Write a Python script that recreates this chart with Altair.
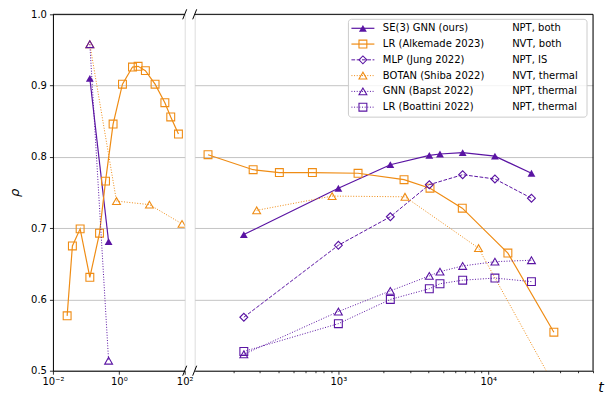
import altair as alt
import pandas as pd

# ---------------- data ----------------
names = ["SE(3) GNN (ours)", "LR (Alkemade 2023)", "MLP (Jung 2022)",
         "BOTAN (Shiba 2022)", "GNN (Bapst 2022)", "LR (Boattini 2022)"]
conditions = ["NPT, both", "NVT, both", "NPT, IS", "NVT, thermal", "NPT, thermal", "NPT, thermal"]

# left panel (short times)
se3_t_L = [0.132, 0.49]
se3_r_L = [0.910, 0.681]
alk_t_L = [0.027, 0.039, 0.067, 0.132, 0.26, 0.395, 0.67, 1.29, 2.6, 3.85, 6.4, 12.6, 25, 37.7, 64.6]
alk_r_L = [0.577, 0.675, 0.699, 0.631, 0.693, 0.766, 0.846, 0.902, 0.926, 0.927, 0.921, 0.902, 0.876, 0.856, 0.832]
botan_t_L = [0.132, 0.85, 8.5, 83]
botan_r_L = [0.958, 0.738, 0.733, 0.706]
bapst_t_L = [0.132, 0.49]
bapst_r_L = [0.958, 0.514]

# right panel (long times)
se3_t_R = [234, 1000, 2222, 4044, 4764, 6750, 11080, 19420]
se3_r_R = [0.691, 0.756, 0.789, 0.802, 0.804, 0.806, 0.801, 0.777]
alk_t_R = [135, 270, 404, 671, 1353, 2742, 4087, 6710, 13520, 27400]
alk_r_R = [0.803, 0.782, 0.778, 0.778, 0.777, 0.768, 0.756, 0.728, 0.665, 0.554]
mlp_t_R = [234, 1000, 2222, 4044, 6750, 11080, 19420]
mlp_r_R = [0.575, 0.676, 0.716, 0.761, 0.775, 0.769, 0.742]
botan_t_R = [285, 908, 2783, 8610, 35000]
botan_r_R = [0.725, 0.745, 0.744, 0.672, 0.44]
bapst_t_R = [234, 1000, 2222, 4044, 4764, 6750, 11080, 19420]
bapst_r_R = [0.523, 0.583, 0.612, 0.633, 0.639, 0.647, 0.653, 0.655]
boat_t_R = [234, 1000, 2222, 4044, 4764, 6750, 11080, 19420]
boat_r_R = [0.527, 0.566, 0.600, 0.615, 0.622, 0.627, 0.630, 0.625]

y_ticks = [0.5, 0.6, 0.7, 0.8, 0.9, 1.0]
left_ticks = [0.01, 1, 100]
right_ticks = [200, 300, 400, 500, 600, 700, 800, 900, 1000,
               2000, 3000, 4000, 5000, 6000, 7000, 8000, 9000, 10000,
               20000, 30000, 40000, 50000]

left_data = {names[0]: (se3_t_L, se3_r_L), names[1]: (alk_t_L, alk_r_L),
             names[3]: (botan_t_L, botan_r_L), names[4]: (bapst_t_L, bapst_r_L)}
right_data = {names[0]: (se3_t_R, se3_r_R), names[1]: (alk_t_R, alk_r_R),
              names[2]: (mlp_t_R, mlp_r_R), names[3]: (botan_t_R, botan_r_R),
              names[4]: (bapst_t_R, bapst_r_R), names[5]: (boat_t_R, boat_r_R)}


def to_df(d):
    rows = []
    for n, (ts, rs) in d.items():
        for t, r in zip(ts, rs):
            rows.append({"series": n, "t": t, "rho": r})
    return pd.DataFrame(rows)


dfL = to_df(left_data)
dfR = to_df(right_data)

# ---------------- styles ----------------
PURPLE = "#5a14a3"
ORANGE = "#ef8c14"
FONT = "DejaVu Sans"
styles = {
    names[0]: dict(color=PURPLE, dash=None, shape="triangle-up", filled=True, lw=1.2),
    names[1]: dict(color=ORANGE, dash=None, shape="square", filled=False, lw=1.2),
    names[2]: dict(color=PURPLE, dash=[3.7, 1.6], shape="diamond", filled=False, lw=1.0),
    names[3]: dict(color=ORANGE, dash=[1, 1.65], shape="triangle-up", filled=False, lw=1.0),
    names[4]: dict(color=PURPLE, dash=[1, 1.65], shape="triangle-up", filled=False, lw=1.0),
    names[5]: dict(color=PURPLE, dash=[1, 1.65], shape="square", filled=False, lw=1.0),
}

H = 357
WL = 132
WR = 399

yscale = alt.Scale(domain=[0.5, 1.0], nice=False, zero=False)
one = pd.DataFrame({"a": [0]})


def line_kw(st):
    kw = dict(color=st["color"], strokeWidth=st["lw"], clip=True)
    if st["dash"]:
        kw["strokeDash"] = st["dash"]
    return kw


def point_kw(st):
    return dict(shape=st["shape"], filled=st["filled"], color=st["color"],
                size=62, strokeWidth=1.1, opacity=1, clip=True)


def series_layers(df, xenc, yenc):
    layers = []
    for n in names:
        if n not in set(df["series"]):
            continue
        st = styles[n]
        base = alt.Chart().transform_filter(alt.datum.series == n)
        layers.append(base.mark_line(**line_kw(st)).encode(x=xenc, y=yenc))
        layers.append(base.mark_point(**point_kw(st)).encode(x=xenc, y=yenc))
    return layers


def rule(x, y, x2=None, y2=None, width=1.0):
    enc = dict(x=alt.value(x), y=alt.value(y))
    if x2 is not None:
        enc["x2"] = alt.value(x2)
    if y2 is not None:
        enc["y2"] = alt.value(y2)
    return alt.Chart(one).mark_rule(color="black", strokeWidth=width).encode(**enc)


common_axis = dict(labelFont=FONT, labelFontSize=10, labelColor="black",
                   tickColor="black", domainColor="black", domainWidth=1,
                   tickWidth=0.8, labelFlush=False, labelOverlap=False)

# ---------------- left panel ----------------
xL = alt.X("t:Q", scale=alt.Scale(type="log", domain=[0.01, 100], nice=False),
           axis=alt.Axis(values=left_ticks, title=None, tickSize=3.5, labelPadding=2,
                         labelExpr="datum.value < 0.1 ? '10⁻²' : (datum.value < 10 ? '10⁰' : '10²')",
                         grid=False, **common_axis))
yL = alt.Y("rho:Q", scale=yscale,
           axis=alt.Axis(values=y_ticks, format=".1f", title="ρ", titleFont=FONT,
                         titleFontStyle="italic", titleFontWeight="normal", titleFontSize=13,
                         titlePadding=9, tickSize=3.5, labelPadding=3, grid=True, minExtent=0,
                         gridColor="#c4c4c4", gridWidth=1, **common_axis))

left_layers = series_layers(dfL, xL, yL)
left_layers += [
    rule(0, 0, x2=WL),                       # top spine
    rule(WL - 2, 5, x2=WL + 2, y2=-5),       # break marks
    rule(WL - 2, H + 5, x2=WL + 2, y2=H - 5),
]
left = alt.layer(*left_layers, data=dfL).properties(width=WL, height=H)

# ---------------- right panel ----------------
xR = alt.X("t:Q", scale=alt.Scale(type="log", domain=[110, 50000], nice=False),
           axis=alt.Axis(values=right_ticks, title=None, labelPadding=2,
                         tickSize={"condition": {"test": "datum.value == 1000 || datum.value == 10000",
                                                 "value": 3.5}, "value": 2},
                         labelExpr="datum.value == 1000 ? '10³' : (datum.value == 10000 ? '10⁴' : '')",
                         grid=False, **common_axis))
yR = alt.Y("rho:Q", scale=yscale,
           axis=alt.Axis(values=[0.6, 0.7, 0.8, 0.9], title=None, labels=False, ticks=False,
                         domain=False, grid=True, gridColor="#c4c4c4", gridWidth=1,
                         minExtent=0, maxExtent=0))

right_layers = series_layers(dfR, xR, yR)
right_layers += [
    rule(0, 0, x2=WR),                      # top spine
    rule(WR, 0, y2=H),                      # right spine
    rule(-2, 5, x2=2, y2=-5),               # break marks
    rule(-2, H + 5, x2=2, y2=H - 5),
]

# legend
LX0, LX1, LY0, LY1 = 154, 393, 5, 103
right_layers.append(
    alt.Chart(one).mark_rect(fill="white", fillOpacity=0.8, stroke="#cccccc",
                             strokeWidth=1, cornerRadius=3)
    .encode(x=alt.value(LX0), x2=alt.value(LX1), y=alt.value(LY0), y2=alt.value(LY1))
)
for i, (n, c) in enumerate(zip(names, conditions)):
    st = styles[n]
    yy = 14 + i * 15.8
    lk = dict(color=st["color"], strokeWidth=st["lw"])
    if st["dash"]:
        lk["strokeDash"] = st["dash"]
    right_layers.append(alt.Chart(one).mark_rule(**lk).encode(
        x=alt.value(157), x2=alt.value(180), y=alt.value(yy)))
    pk = point_kw(st)
    pk.pop("clip")
    right_layers.append(alt.Chart(one).mark_point(**pk).encode(
        x=alt.value(168.5), y=alt.value(yy)))
    right_layers.append(alt.Chart(one).mark_text(align="left", baseline="middle", font=FONT,
                                                 fontSize=10, color="black").encode(
        x=alt.value(188.5), y=alt.value(yy), text=alt.value(n)))
    right_layers.append(alt.Chart(one).mark_text(align="left", baseline="middle", font=FONT,
                                                 fontSize=10, color="black").encode(
        x=alt.value(318), y=alt.value(yy), text=alt.value(c)))

# x axis label "t"
right_layers.append(alt.Chart(one).mark_text(align="center", baseline="alphabetic", font=FONT,
                                             fontSize=14, fontStyle="italic", color="black").encode(
    x=alt.value(WR + 8), y=alt.value(H + 21), text=alt.value("t")))

right = alt.layer(*right_layers, data=dfR).properties(width=WR, height=H)

chart = (
    alt.hconcat(left, right, spacing=10, bounds="flush")
    .properties(padding={"left": 0, "top": 0, "right": 0, "bottom": 0})
    .configure_view(stroke=None)
    .configure(font=FONT)
)

chart.save("out.html", embed_options={"renderer": "svg", "actions": False})
